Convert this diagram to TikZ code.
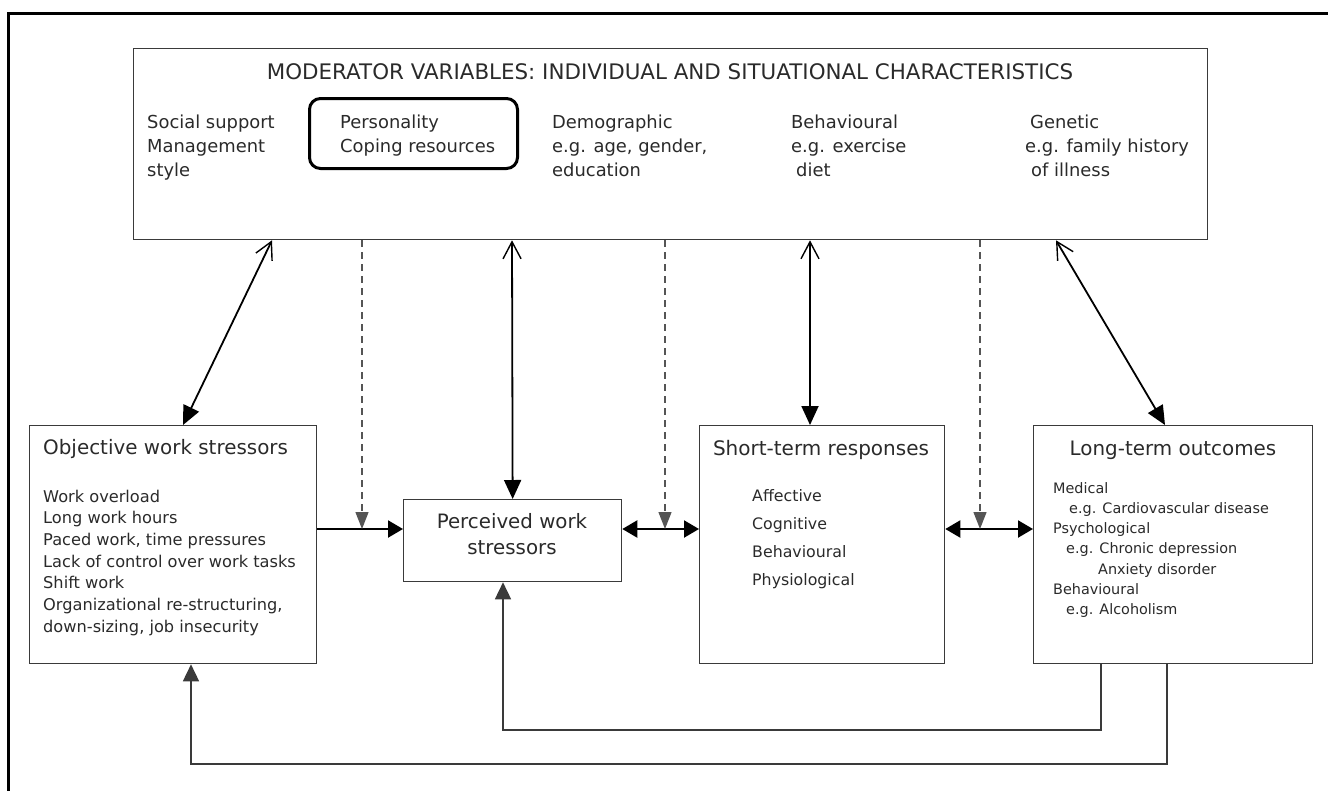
\documentclass[tikz,border=0pt]{standalone}
\usepackage{fontspec}
\setmainfont{DejaVu Sans}
\usetikzlibrary{arrows.meta,calc}
\definecolor{ink}{HTML}{2A2A2A}
\definecolor{rule}{HTML}{3A3A3A}
\definecolor{dashgrey}{HTML}{555555}
% lines of text stacked with a fixed row pitch; baseline = first row
\newcommand{\txtlines}[2][l]{\begin{tabular}[t]{@{}#1@{}}#2\end{tabular}}
\newcommand{\fs}[2]{\fontsize{#1}{#2}\selectfont}
\begin{document}
\begin{tikzpicture}[x=1pt,y=-1pt,
  box/.style={draw=rule, line width=1.3pt, inner sep=0pt, anchor=north west},
  txt/.style={inner sep=0pt, anchor=base west, text=ink},
  ctxt/.style={inner sep=0pt, anchor=base, text=ink},
  link/.style={draw=black, line width=1.8pt},
  twoway/.style={link, {Straight Barb[length=17pt,width=18pt,line width=1.4pt]}-{Triangle[length=19pt,width=17pt]}},
  flow/.style={link, line width=2.2pt, -{Triangle[length=15pt,width=17pt]}},
  bothway/.style={link, line width=2.2pt, {Triangle[length=15pt,width=17pt]}-{Triangle[length=15pt,width=17pt]}},
  moder/.style={draw=dashgrey, line width=1.3pt, dash pattern=on 7pt off 5pt,
    -{Triangle[length=17pt,width=13pt,fill=dashgrey]}},
  back/.style={draw=rule, line width=1.6pt, -{Triangle[length=17pt,width=16pt]}}
]
\useasboundingbox (0,0) rectangle (1328,790);

% page frame
\draw[line width=3pt, line cap=rect] (1328,13) -- (8,13) -- (8,790);

% moderator panel
\node[box, minimum width=1074pt, minimum height=191pt] (mod) at (133,48) {};
\node[ctxt, font=\fs{21.4}{24}] (modtitle) at (670,79)
  {MODERATOR VARIABLES: INDIVIDUAL AND SITUATIONAL CHARACTERISTICS};
\node[box, draw=black, line width=3pt, rounded corners=11pt,
  minimum width=208pt, minimum height=70pt] (pers) at (308,97) {};
\node[txt, font=\fs{17.9}{24}] (m1) at (147,128) {\txtlines{Social support\\Management\\style}};
\node[txt, font=\fs{17.9}{24}] (m2) at (340,128) {\txtlines{Personality\\Coping resources}};
\node[txt, font=\fs{17.9}{24}] (m3) at (552,128) {\txtlines{Demographic\\e.g. age, gender,\\education}};
\node[txt, font=\fs{17.9}{24}] (m4) at (791,128) {\txtlines{Behavioural\\e.g. exercise\\\hspace*{5pt}diet}};
\node[txt, font=\fs{17.9}{24}] (m5) at (1025,128) {\txtlines{\hspace*{5pt}Genetic\\e.g. family history\\\hspace*{6pt}of illness}};

% lower boxes
\node[box, minimum width=287pt, minimum height=238pt] (obj) at (29,425) {};
\node[box, minimum width=218pt, minimum height=82pt] (perc) at (403,499) {};
\node[box, minimum width=245pt, minimum height=238pt] (short) at (699,425) {};
\node[box, minimum width=279pt, minimum height=238pt] (long) at (1033,425) {};

\node[txt, font=\fs{19.9}{22}] (objtitle) at (43,454) {Objective work stressors};
\node[txt, font=\fs{16.2}{21.7}] (objlist) at (43,502) {\txtlines{Work overload\\Long work hours\\Paced work, time pressures\\Lack of control over work tasks\\Shift work\\Organizational re-structuring,\\down-sizing, job insecurity}};

\node[ctxt, font=\fs{19.8}{26}] (perctext) at (512,528) {\txtlines[c]{Perceived work\\stressors}};

\node[ctxt, font=\fs{20}{22}] (shorttitle) at (821,455) {Short-term responses};
\node[txt, font=\fs{15.8}{28}] (shortlist) at (752,501) {\txtlines{Affective\\Cognitive\\Behavioural\\Physiological}};

\node[ctxt, font=\fs{19.9}{22}] (longtitle) at (1173,455) {Long-term outcomes};
\node[txt, font=\fs{14.4}{20.3}] (longlist) at (1053,493) {\txtlines{Medical\\\hspace*{16pt}e.g. Cardiovascular disease\\Psychological\\\hspace*{13pt}e.g. Chronic depression\\\hspace*{45pt}Anxiety disorder\\Behavioural\\\hspace*{13pt}e.g. Alcoholism}};

% reference points for connector routing
\coordinate (hy) at (0,529);
\coordinate (dA) at (362,0);
\coordinate (dB) at (665,0);
\coordinate (dC) at (980,0);
\coordinate (r1) at (1101,730);
\coordinate (l1) at (503,730);
\coordinate (r2) at (1167,764);
\coordinate (l2) at (191,764);

% two-way links between moderators and each stage
\draw[twoway] ([xshift=139pt]mod.south west) -- ([xshift=154pt]obj.north west);
\draw[twoway] ([xshift=379pt]mod.south west) -- (perc.north);
\draw[twoway] ([xshift=677pt]mod.south west) -- ([xshift=111pt]short.north west);
\draw[twoway] ([xshift=923pt]mod.south west) -- ([xshift=132pt]long.north west);

% main causal chain
\draw[flow] (obj.east |- hy) -- (perc.west |- hy);
\draw[bothway] (perc.east |- hy) -- (short.west |- hy);
\draw[bothway] (short.east |- hy) -- (long.west |- hy);

% moderating effects on the chain
\draw[moder] (mod.south -| dA) -- (dA |- hy);
\draw[moder] (mod.south -| dB) -- (dB |- hy);
\draw[moder] (mod.south -| dC) -- (dC |- hy);

% feedback loops
\draw[back] (long.south -| r1) -- (r1) -- (l1) -- (perc.south -| l1);
\draw[back] (long.south -| r2) -- (r2) -- (l2) -- (obj.south -| l2);
\end{tikzpicture}
\end{document}
